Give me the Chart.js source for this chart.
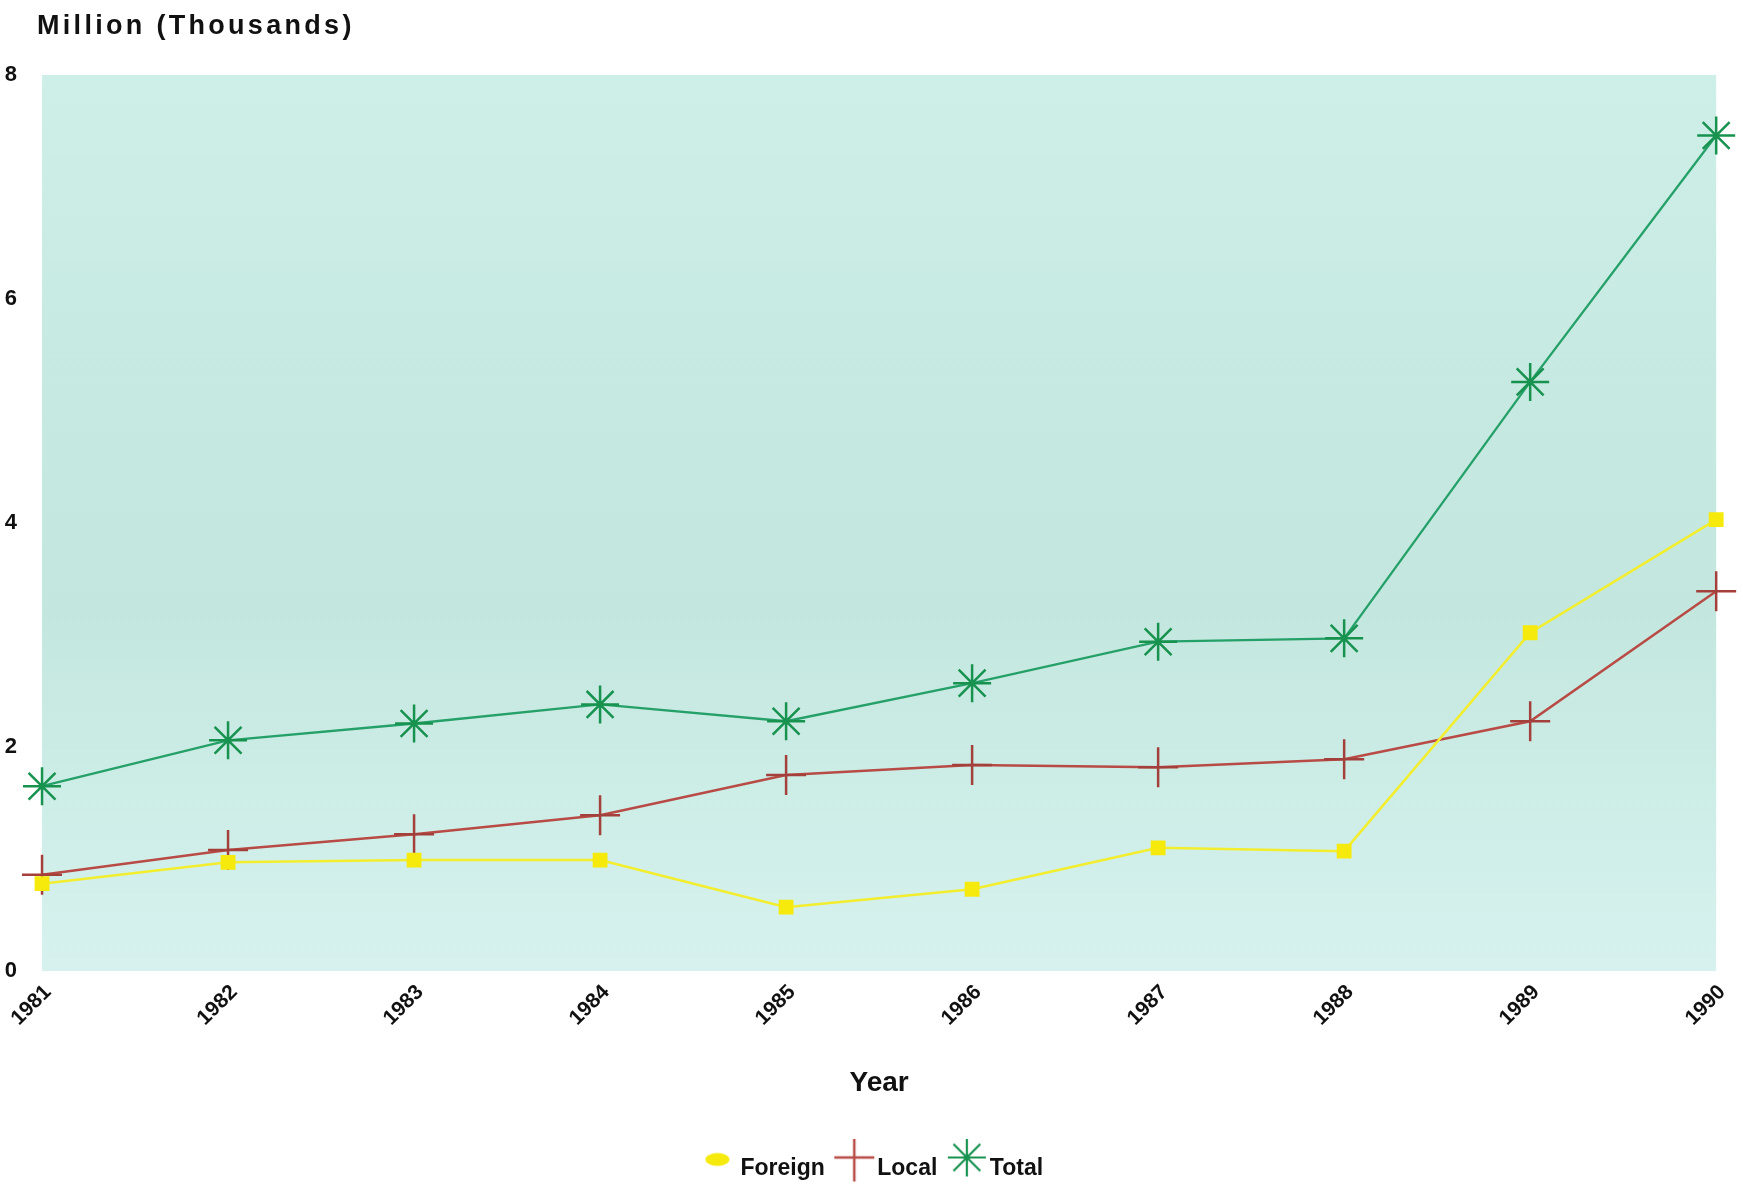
<!DOCTYPE html>
<html>
<head>
<meta charset="utf-8">
<script src="https://cdn.jsdelivr.net/npm/chart.js@4/dist/chart.umd.min.js"></script>
<style>
  html, body { margin: 0; padding: 0; background: #ffffff; }
  #wrap { width: 1743px; height: 1190px; position: relative; }
</style>
</head>
<body>
<div id="wrap"><canvas id="chart" width="1743" height="1190"></canvas></div>
<script>
// Years on the horizontal axis
const years = ['1981', '1982', '1983', '1984', '1985', '1986', '1987', '1988', '1989', '1990'];

// Values in millions (thousands)
const foreign = [0.78, 0.97, 0.99, 0.99, 0.57, 0.73, 1.10, 1.07, 3.02, 4.03];
const local   = [0.86, 1.08, 1.22, 1.39, 1.75, 1.84, 1.82, 1.89, 2.23, 3.39];
const total   = [1.65, 2.06, 2.21, 2.38, 2.23, 2.57, 2.94, 2.97, 5.26, 7.46];

// Vertical axis ticks
const yTicks = [0, 2, 4, 6, 8];

const FONT = '"Liberation Sans", Arial, Helvetica, sans-serif';

const COLORS = {
  foreignLine: '#f2ee2e', foreignMark: '#f6ea0c',
  localLine: '#b84b45',   localMark: '#a3403b',
  totalLine: '#24a068',   totalMark: '#17924f'
};

// Small canvases used as legend symbols (marker sits a little above the text middle)
function legendSymbol(kind) {
  const c = document.createElement('canvas');
  c.width = 44; c.height = 66;
  const g = c.getContext('2d');
  const cx = 22, cy = 22;
  g.lineCap = 'butt';
  if (kind === 'foreign') {
    g.fillStyle = COLORS.foreignMark;
    g.beginPath();
    g.ellipse(cx, cy + 2, 12, 6.5, 0, 0, Math.PI * 2);
    g.fill();
  } else if (kind === 'local') {
    g.strokeStyle = COLORS.localLine;
    g.lineWidth = 2.5;
    g.beginPath();
    g.moveTo(cx, cy - 22); g.lineTo(cx, cy + 24);
    g.moveTo(cx - 20, cy); g.lineTo(cx + 20, cy);
    g.stroke();
  } else {
    g.strokeStyle = COLORS.totalMark;
    g.lineWidth = 2.2;
    const r = 19, d = r * Math.SQRT1_2;
    g.beginPath();
    g.moveTo(cx, cy - r); g.lineTo(cx, cy + r);
    g.moveTo(cx - r, cy); g.lineTo(cx + r, cy);
    g.moveTo(cx - d, cy - d); g.lineTo(cx + d, cy + d);
    g.moveTo(cx - d, cy + d); g.lineTo(cx + d, cy - d);
    g.stroke();
  }
  return c;
}
const legendSymbols = {
  Foreign: legendSymbol('foreign'),
  Local: legendSymbol('local'),
  Total: legendSymbol('total')
};

// Pale cyan-green wash behind the plot area
const plotBackground = {
  id: 'plotBackground',
  beforeDraw(chart) {
    const { ctx, chartArea: a } = chart;
    const g = ctx.createLinearGradient(0, a.top, 0, a.bottom);
    g.addColorStop(0.0, '#cdefe8');
    g.addColorStop(0.35, '#c6e9e1');
    g.addColorStop(0.6, '#c3e7de');
    g.addColorStop(0.8, '#cdede7');
    g.addColorStop(1.0, '#d7f2ee');
    ctx.save();
    ctx.fillStyle = g;
    ctx.fillRect(a.left, a.top, a.right - a.left, a.bottom - a.top);
    ctx.restore();
  }
};

// Nudge the legend row a little to the right of the canvas centre
const legendShift = {
  id: 'legendShift',
  afterLayout(chart) {
    if (chart.legend) {
      chart.legend.left += 16;
      chart.legend.right += 16;
    }
  }
};

// Axis caption above the value axis
const topCaption = {
  id: 'topCaption',
  afterDraw(chart) {
    const { ctx } = chart;
    ctx.save();
    ctx.font = 'bold 27px ' + FONT;
    ctx.fillStyle = '#111111';
    ctx.textAlign = 'left';
    ctx.textBaseline = 'alphabetic';
    if ('letterSpacing' in ctx) ctx.letterSpacing = '3.3px';
    ctx.fillText('Million (Thousands)', 37, 34);
    ctx.restore();
  }
};

const ctx = document.getElementById('chart').getContext('2d');
new Chart(ctx, {
  type: 'line',
  data: {
    labels: years,
    datasets: [
      {
        label: 'Foreign',
        data: foreign,
        borderColor: COLORS.foreignLine,
        backgroundColor: COLORS.foreignMark,
        borderWidth: 2.5,
        pointStyle: 'rect',
        pointRadius: 10.5,
        pointBorderWidth: 0,
        pointBackgroundColor: COLORS.foreignMark,
        tension: 0
      },
      {
        label: 'Local',
        data: local,
        borderColor: COLORS.localLine,
        backgroundColor: COLORS.localLine,
        borderWidth: 2.5,
        pointStyle: 'cross',
        pointRadius: 20,
        pointBorderWidth: 2.5,
        pointBorderColor: COLORS.localMark,
        tension: 0
      },
      {
        label: 'Total',
        data: total,
        borderColor: COLORS.totalLine,
        backgroundColor: COLORS.totalMark,
        borderWidth: 2.3,
        pointStyle: 'star',
        pointRadius: 19,
        pointBorderWidth: 2.5,
        pointBorderColor: COLORS.totalMark,
        tension: 0
      }
    ]
  },
  options: {
    responsive: false,
    animation: false,
    layout: { padding: { top: 75, right: 26, left: 0, bottom: 0 } },
    scales: {
      x: {
        offset: false,
        grid: { display: false, drawTicks: false },
        border: { display: false },
        ticks: {
          minRotation: 45,
          maxRotation: 45,
          padding: 9,
          labelOffset: 6,
          color: '#111111',
          font: { family: FONT, size: 21, weight: 'bold' }
        },
        title: {
          display: true,
          text: 'Year',
          color: '#111111',
          font: { family: FONT, size: 28, weight: 'bold' },
          padding: { top: 0, bottom: 39 }
        },
        afterFit(scale) { scale.height = 168; }
      },
      y: {
        min: 0,
        max: 8,
        afterBuildTicks(scale) { scale.ticks = yTicks.map(v => ({ value: v })); },
        grid: { display: false, drawTicks: false },
        border: { display: false },
        ticks: {
          padding: 25,
          color: '#111111',
          font: { family: FONT, size: 22, weight: 'bold' }
        },
        afterFit(scale) { scale.width = 42; }
      }
    },
    plugins: {
      legend: {
        position: 'bottom',
        labels: {
          usePointStyle: true,
          color: '#111111',
          padding: 18,
          font: { family: FONT, size: 23, weight: 'bold' },
          generateLabels(chart) {
            const items = Chart.defaults.plugins.legend.labels.generateLabels(chart);
            items.forEach(it => { it.pointStyle = legendSymbols[it.text]; });
            return items;
          }
        }
      },
      tooltip: { enabled: false }
    }
  },
  plugins: [plotBackground, legendShift, topCaption]
});
</script>
</body>
</html>
